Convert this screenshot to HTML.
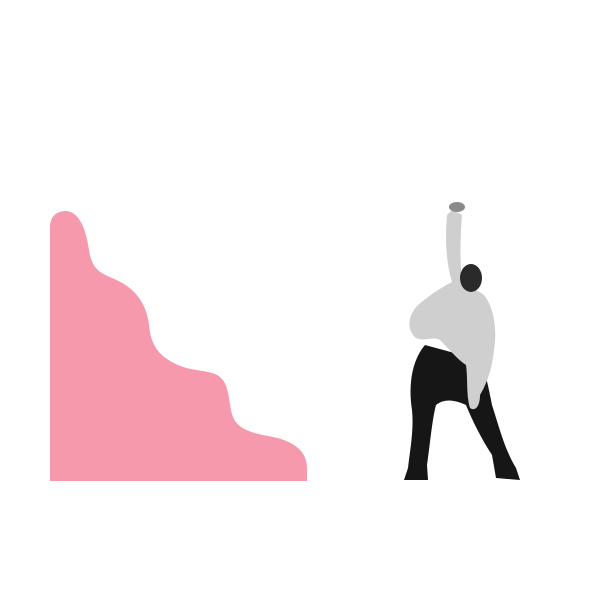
<!DOCTYPE html>
<html><head><meta charset="utf-8"><style>
html,body{margin:0;padding:0;background:#fff;width:600px;height:600px;overflow:hidden}
</style></head><body>
<svg width="600" height="600" viewBox="0 0 600 600">
<path fill="#f799ad"
 d="M50,481 L50,228 C50,215 58,211 66,211 C80,212 86,230 89,250 C92,268 98,272 112,278 C132,286 146,300 149,325 C151,345 158,356 178,365 C192,371 205,370 215,374 C230,380 228,400 232,414 C236,428 248,432 268,436 C292,440 307,450 307,468 L307,481 Z"/>
<g>
 <path fill="#161616"
  d="M425,345 C412,360 408,385 412,410 C414,430 410,450 408,468 L404,480 L428,480 L427,465 C430,445 432,420 436,405 C445,398 455,400 466,405 C472,420 482,440 492,455 L496,478 L520,480 L516,468 C505,450 500,430 492,405 C488,385 485,370 480,360 Z"/>
 <path fill="#cfcfcf"
  d="M452,210 L447,215 C445,240 446,262 452,282 C440,288 430,295 418,305 C408,315 406,330 416,338 C424,342 432,336 440,340 C450,350 458,360 466,365 C468,380 466,395 470,408 C476,412 480,405 480,395 C486,385 492,370 494,350 C498,325 492,305 484,295 C475,288 466,288 462,282 C460,262 460,238 462,215 Z"/>
 <ellipse cx="471" cy="278" rx="11" ry="14" fill="#2a2a2a"/>
 <ellipse cx="457" cy="207" rx="8" ry="5" fill="#8a8a8a"/>
</g>
</svg>
</body></html>
